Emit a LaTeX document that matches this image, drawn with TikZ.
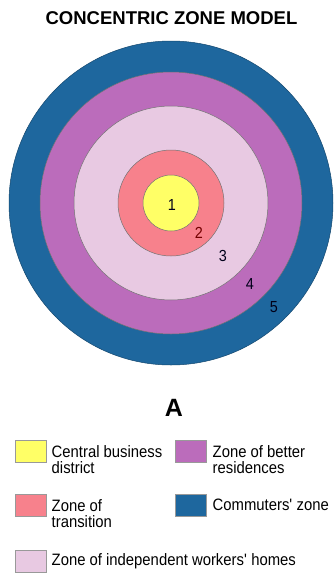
\documentclass[tikz,border=0pt]{standalone}
\usepackage{fontspec}
\setmainfont{Liberation Sans}
\newfontfamily\legfont[FakeStretch=0.9]{Liberation Sans}
\usepackage{xcolor}
\usetikzlibrary{positioning}
\definecolor{cbd}{HTML}{FFFF66}
\definecolor{trans}{HTML}{F7818C}
\definecolor{workers}{HTML}{E8C9E2}
\definecolor{better}{HTML}{BB6CBB}
\definecolor{commute}{HTML}{1E679E}
\tikzset{
  ring/.style={circle,draw=black!55,line width=0.5pt,inner sep=0pt,minimum size=#1},
  num/.style={font=\legfont\fontsize{16}{17}\selectfont,text=black!75!blue!40!black},
  swatch/.style={draw=black!40,line width=0.5pt,minimum width=31pt,minimum height=22pt,inner sep=0pt},
  lbl/.style={align=left,inner sep=0pt,font=\legfont\fontsize{16.5}{16}\selectfont},
}
\begin{document}
\begin{tikzpicture}[x=1pt,y=-1pt]
\useasboundingbox[fill=white] (0,0) rectangle (333,574);
% title
\node[font=\fontsize{18.5}{20}\selectfont\bfseries] (title) at (171.5,18) {CONCENTRIC ZONE MODEL};
% rings, outermost first
\coordinate (ctr) at (171,203);
\node[ring=324pt,fill=commute,draw=commute!70!black] (z5) at (ctr) {};
\node[ring=262pt,fill=better] (z4) at (ctr) {};
\node[ring=194pt,fill=workers] (z3) at (ctr) {};
\node[ring=106pt,fill=trans] (z2) at (ctr) {};
\node[ring=56pt,fill=cbd] (z1) at (ctr) {};
% zone numbers
\node[num] (n1) at (172,205) {1};
\node[num,text=red!45!black] (n2) at (199,233) {2};
\node[num] (n3) at (223,256) {3};
\node[num] (n4) at (250,284) {4};
\node[num] (n5) at (274,307) {5};
% caption
\node[font=\fontsize{25}{26}\selectfont\bfseries] (cap) at (174,407.5) {A};
% legend
\node[swatch,fill=cbd,anchor=north west] (k1) at (15,440) {};
\node[lbl,right=5pt of k1.north east,anchor=north west,yshift=-5pt] (t1) {Central business\\district};
\node[swatch,fill=better,anchor=north west] (k4) at (175,440) {};
\node[lbl,right=6pt of k4.north east,anchor=north west,yshift=-5pt] (t4) {Zone of better\\residences};
\node[swatch,fill=trans,anchor=north west] (k2) at (15,494) {};
\node[lbl,right=5pt of k2.north east,anchor=north west,yshift=-5pt] (t2) {Zone of\\transition};
\node[swatch,fill=commute,anchor=north west] (k5) at (175,494) {};
\node[lbl,right=6pt of k5.east] (t5) {Commuters\textquotesingle\ zone};
\node[swatch,fill=workers,anchor=north west] (k3) at (15,550) {};
\node[lbl,right=5pt of k3.east] (t3) {Zone of independent workers\textquotesingle\ homes};
\end{tikzpicture}
\end{document}
